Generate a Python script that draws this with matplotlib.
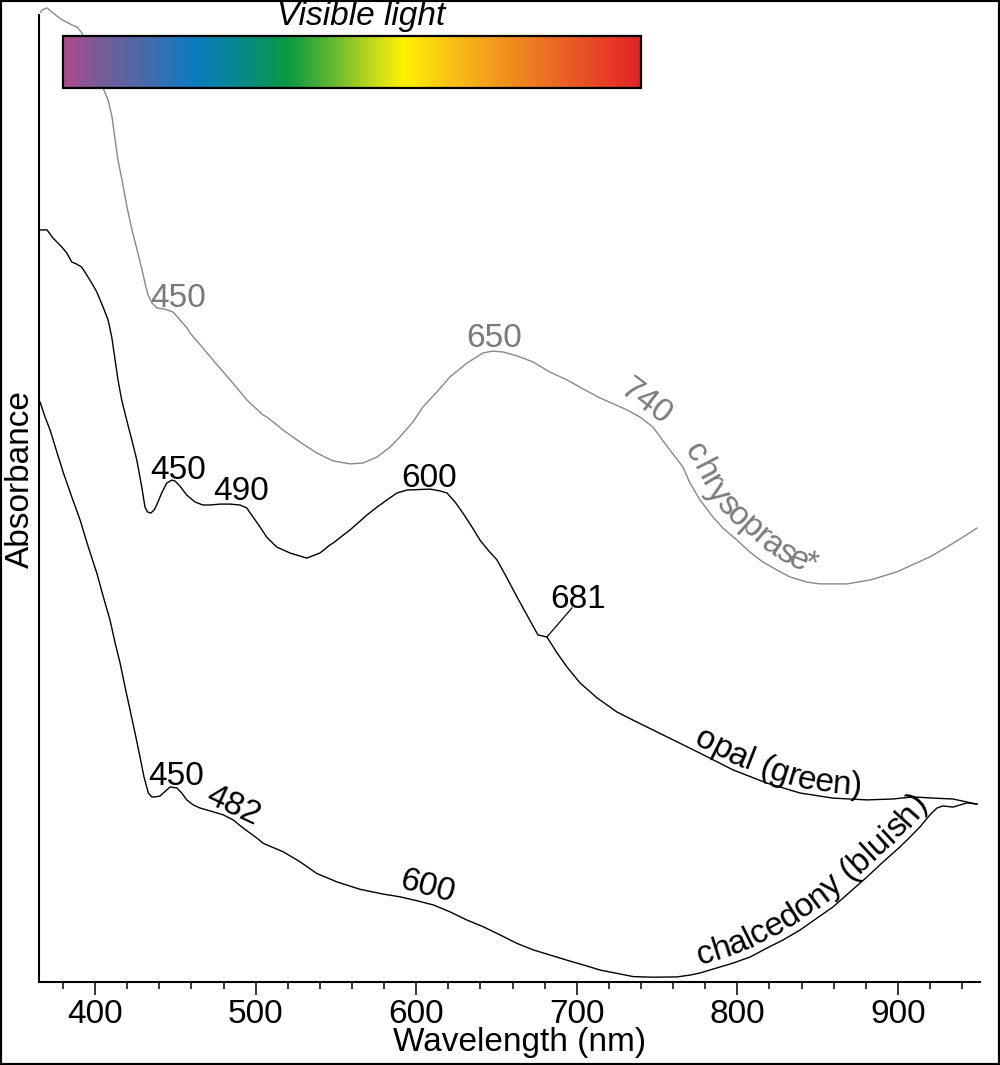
import numpy as np
import matplotlib
matplotlib.use('Agg')
import matplotlib.pyplot as plt
from matplotlib.colors import LinearSegmentedColormap
from matplotlib.patches import Rectangle
from matplotlib.font_manager import FontProperties

plt.rcParams['font.family'] = ['Liberation Sans', 'DejaVu Sans']

# chrysoprase* (grey trace)
chry_wl = [366, 367.0, 370.1, 373.8, 379.5, 385.7, 388.8, 391.9, 405.0, 408.1, 410.6, 412.5,
           414.3, 416.8, 419.9, 423.0, 426.2, 429.3, 431.1, 433.0, 435.5, 438.6, 443.6, 448.6,
           457.3, 459.2, 466.6, 473.5, 484.1, 494.6, 496.5, 504.6, 507.1, 517.1, 527.6, 538.2,
           548.2, 558.8, 566.9, 575.6, 583.7, 589.9, 598.0, 604.2, 612.9, 621.0, 631.6, 641.6,
           647.8, 654.0, 662.8, 672.7, 683.3, 693.9, 703.9, 714.4, 731.3, 739.4, 747.4, 758.0,
           766.1, 770.5, 776.7, 784.8, 791.0, 799.8, 807.8, 815.9, 824.7, 832.8, 843.3, 851.4,
           868.2, 882.6, 899.4, 907.5, 919.9, 930.5, 940.5, 949.2]
chry_abs = [3.233, 3.24, 3.247, 3.23, 3.207, 3.19, 3.183, 3.163, 2.98, 2.94, 2.883, 2.807,
            2.74, 2.673, 2.583, 2.507, 2.44, 2.373, 2.33, 2.29, 2.263, 2.247, 2.243, 2.233,
            2.18, 2.163, 2.117, 2.073, 2.007, 1.94, 1.93, 1.89, 1.883, 1.84, 1.80, 1.763,
            1.737, 1.727, 1.73, 1.75, 1.783, 1.817, 1.867, 1.917, 1.967, 2.017, 2.063, 2.097,
            2.103, 2.10, 2.087, 2.067, 2.033, 2.007, 1.977, 1.947, 1.907, 1.883, 1.85, 1.773,
            1.717, 1.663, 1.607, 1.55, 1.513, 1.473, 1.433, 1.40, 1.373, 1.35, 1.333, 1.327,
            1.327, 1.34, 1.367, 1.387, 1.417, 1.45, 1.483, 1.513]

# opal (green)
opal_wl = [365.8, 370.1, 373.8, 379.3, 382.4, 385.5, 388.6, 391.7, 394.8, 397.9, 401.1, 405.0,
           408.1, 410.4, 412.5, 414.3, 416.6, 419.7, 422.9, 426.0, 429.1, 431.1, 432.6, 434.7,
           436.7, 438.4, 441.5, 444.6, 447.8, 449.8, 452.9, 457.1, 462.3, 467.2, 471.6, 477.8,
           484.1, 490.3, 494.5, 498.4, 502.7, 506.9, 513.1, 521.4, 531.8, 540.1, 546.3, 548.2,
           558.8, 569.4, 575.6, 581.8, 588.0, 594.3, 608.6, 614.8, 619.2, 624.2, 629.1, 634.7,
           639.7, 644.7, 650.3, 656.5, 662.8, 669.0, 675.8, 681.4, 687.7, 693.9, 702.0, 712.6,
           725.0, 735.0, 756.2, 776.7, 797.3, 818.4, 839.0, 859.5, 880.7, 896.9, 909.3, 921.8,
           934.2, 943.0, 949.2]
opal_abs = [2.507, 2.507, 2.48, 2.45, 2.43, 2.40, 2.393, 2.383, 2.357, 2.33, 2.30, 2.25,
            2.207, 2.15, 2.073, 2.007, 1.94, 1.873, 1.807, 1.74, 1.65, 1.583, 1.567, 1.563,
            1.573, 1.59, 1.63, 1.663, 1.673, 1.67, 1.653, 1.623, 1.60, 1.59, 1.59, 1.593,
            1.593, 1.59, 1.58, 1.55, 1.517, 1.483, 1.45, 1.43, 1.413, 1.43, 1.457, 1.463,
            1.507, 1.557, 1.583, 1.607, 1.63, 1.64, 1.643, 1.637, 1.63, 1.60, 1.563, 1.517,
            1.473, 1.44, 1.407, 1.347, 1.283, 1.223, 1.157, 1.15, 1.097, 1.05, 0.997, 0.947,
            0.90, 0.873, 0.817, 0.763, 0.707, 0.663, 0.63, 0.613, 0.607, 0.61, 0.617, 0.613,
            0.61, 0.60, 0.593]

# chalcedony (bluish)
chal_wl = [365.8, 368.9, 372.0, 376.2, 380.3, 385.5, 390.7, 395.8, 401.1, 405.2, 409.3, 412.5,
           415.6, 418.7, 421.8, 424.9, 428.0, 430.5, 433.2, 435.3, 437.4, 440.5, 442.5, 446.7,
           450.9, 454.0, 457.1, 461.2, 465.4, 473.7, 479.9, 486.1, 492.3, 500.7, 504.8, 517.2,
           527.6, 538.0, 550.5, 565.0, 579.5, 589.9, 600.3, 610.6, 621.0, 631.4, 641.8, 652.2,
           662.6, 672.9, 683.3, 693.7, 704.0, 714.4, 724.8, 735.2, 747.4, 762.4, 770.5, 776.7,
           787.3, 797.3, 807.8, 818.4, 828.4, 839.0, 849.6, 859.5, 870.1, 880.7, 890.7, 901.2,
           907.5, 913.7, 919.9, 924.3, 928.0, 934.2, 938.6, 943.0, 949.2]
chal_abs = [1.933, 1.883, 1.84, 1.767, 1.697, 1.617, 1.54, 1.45, 1.363, 1.283, 1.207, 1.13,
            1.063, 0.983, 0.907, 0.83, 0.75, 0.683, 0.63, 0.617, 0.617, 0.62, 0.63, 0.65,
            0.647, 0.63, 0.607, 0.59, 0.58, 0.567, 0.557, 0.54, 0.513, 0.48, 0.462, 0.434,
            0.401, 0.362, 0.334, 0.309, 0.293, 0.284, 0.271, 0.257, 0.234, 0.207, 0.184, 0.157,
            0.129, 0.107, 0.09, 0.073, 0.057, 0.04, 0.029, 0.018, 0.016, 0.017, 0.023, 0.03,
            0.047, 0.063, 0.083, 0.113, 0.14, 0.173, 0.213, 0.25, 0.30, 0.35, 0.40, 0.45,
            0.483, 0.517, 0.557, 0.58, 0.587, 0.583, 0.59, 0.597, 0.593]

# visible light bar
vis_range = (380, 740)
vis_stops = [380, 400, 430, 460, 490, 520, 550, 575, 592, 615, 650, 690, 740]
vis_colors = ['#b04a8c', '#7c5a96', '#4a6aaa', '#0c7bc2', '#07888a', '#0a9a42', '#6cbb30',
              '#cadc1a', '#fff100', '#fbcb13', '#f1991e', '#ea6424', '#e32228']

GREY = '#7a7a7a'
FS = 24

fig = plt.figure(figsize=(10, 10.65), dpi=100)
ax = fig.add_axes([0.039, 83 / 1065, 0.941, 975 / 1065])

ax.plot(chry_wl, chry_abs, color='#888888', lw=1.0, clip_on=False)
ax.plot(opal_wl, opal_abs, color='black', lw=1.0, clip_on=False)
ax.plot(chal_wl, chal_abs, color='black', lw=1.0, clip_on=False)

# spectrum bar
cmap = LinearSegmentedColormap.from_list(
    'vis', [((s - vis_stops[0]) / (vis_stops[-1] - vis_stops[0]), c) for s, c in zip(vis_stops, vis_colors)])
grad = np.linspace(0, 1, 512)[None, :]
ax.imshow(grad, extent=[vis_range[0], vis_range[1], 2.98, 3.153], aspect='auto', cmap=cmap, zorder=3)
ax.add_patch(Rectangle((vis_range[0], 2.98), vis_range[1] - vis_range[0], 0.173,
                       fill=False, ec='black', lw=1.6, zorder=4))
ax.text(566, 3.19, 'Visible light', ha='center', va='baseline', fontsize=FS, style='italic')
ax.set_xlim(365.1, 951.1)
ax.set_ylim(0, 3.25)

# axes styling
for side in ['top', 'right']:
    ax.spines[side].set_visible(False)
ax.spines['left'].set_linewidth(1.5)
ax.spines['bottom'].set_linewidth(1.5)
ax.spines['left'].set_bounds(0, 3.223)
ax.set_yticks([])
ax.set_xticks(range(400, 901, 100))
ax.set_xticks(range(380, 951, 20), minor=True)
ax.tick_params(axis='x', which='major', direction='out', length=9.5, width=1.1, labelsize=FS, pad=3)
ax.tick_params(axis='x', which='minor', direction='out', length=5, width=1.1)

fig.text(520 / 1000, 1 - 1043 / 1065, 'Wavelength (nm)', ha='center', va='center', fontsize=FS)
fig.text(20 / 1000, 1 - 479 / 1065, 'Absorbance', ha='center', va='center', fontsize=FS, rotation=90)

# peak labels
ax.text(451.7, 2.25, '450', color=GREY, fontsize=FS, ha='center', va='baseline')
ax.text(648.4, 2.117, '650', color=GREY, fontsize=FS, ha='center', va='baseline')
ax.text(743.1, 1.933, '740', color=GREY, fontsize=FS, ha='center', va='center',
        rotation=-37, rotation_mode='anchor')
ax.text(451.7, 1.677, '450', fontsize=FS, ha='center', va='baseline')
ax.text(490.9, 1.607, '490', fontsize=FS, ha='center', va='baseline')
ax.text(608.0, 1.65, '600', fontsize=FS, ha='center', va='baseline')
ax.text(700.7, 1.247, '681', fontsize=FS, ha='center', va='baseline')
ax.plot([681.4, 697.0], [1.15, 1.247], color='black', lw=0.9)
ax.text(450.4, 0.657, '450', fontsize=FS, ha='center', va='baseline')
ax.text(485.9, 0.587, '482', fontsize=FS, ha='center', va='center', rotation=-25, rotation_mode='anchor')
ax.text(606.7, 0.317, '600', fontsize=FS, ha='center', va='center', rotation=-15, rotation_mode='anchor')


def label_along(ax, wl, ab, text, start, lift, color='black'):
    # lay the characters of text along the curve, a bit above it
    r = fig.canvas.get_renderer()
    prop = FontProperties(family=['Liberation Sans', 'DejaVu Sans'], size=FS)
    pts = ax.transData.transform(np.column_stack([wl, ab]))
    s = np.concatenate([[0], np.cumsum(np.hypot(*np.diff(pts, axis=0).T))])
    s0 = np.interp(start, wl, s)

    def width(t):
        return r.get_text_width_height_descent(t, prop, ismath=False)[0]

    base = width('HH')
    inv = ax.transData.inverted()
    for ch in text:
        adv = width('H' + ch + 'H') - base
        mid = s0 + adv / 2
        x = np.interp(mid, s, pts[:, 0])
        y = np.interp(mid, s, pts[:, 1])
        lo, hi = mid - adv / 2 - 6, mid + adv / 2 + 6
        ang = np.arctan2(np.interp(hi, s, pts[:, 1]) - np.interp(lo, s, pts[:, 1]),
                         np.interp(hi, s, pts[:, 0]) - np.interp(lo, s, pts[:, 0]))
        px, py = x - lift * np.sin(ang), y + lift * np.cos(ang)
        if ch != ' ':
            dx, dy = inv.transform((px, py))
            ax.text(dx, dy, ch, fontproperties=prop, color=color, rotation=np.degrees(ang),
                    rotation_mode='anchor', ha='center', va='baseline')
        s0 += adv


fig.canvas.draw()
label_along(ax, chry_wl, chry_abs, 'chrysoprase*', 761.0, 10, color=GREY)
label_along(ax, opal_wl, opal_abs, 'opal (green)', 771.0, 5)
label_along(ax, chal_wl, chal_abs, 'chalcedony (bluish)', 778.0, 8)

# outer frame
fig.add_artist(Rectangle((0, 0), 1, 1, transform=fig.transFigure, fill=False, ec='black', lw=3))

fig.savefig('out.png', dpi=100)
